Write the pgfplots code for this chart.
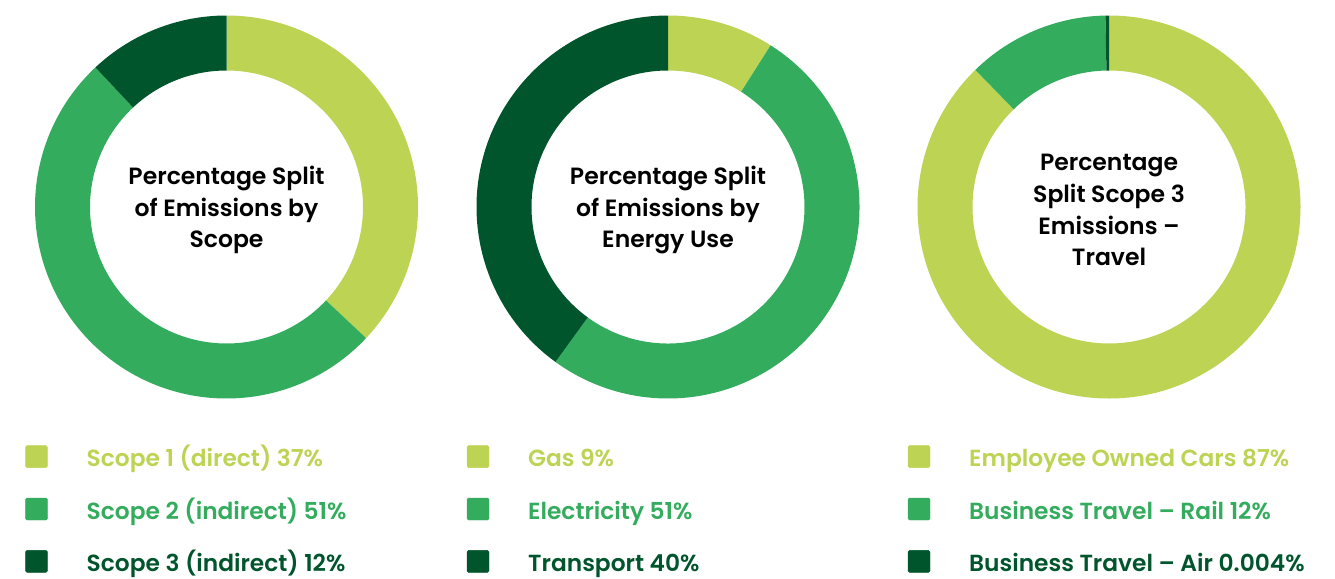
\documentclass[border=0pt]{standalone}
\usepackage{fontspec}
\setmainfont{Poppins}[BoldFont={* SemiBold}]
\usepackage{pgfplots}
\usepackage{pgfplotstable}
\pgfplotsset{compat=1.18}

\definecolor{cLight}{HTML}{BDD353}
\definecolor{cMid}{HTML}{34AC5E}
\definecolor{cDark}{HTML}{00552C}

\pgfplotstableread{
label value color
Scope1 37 cLight
Scope2 51 cMid
Scope3 12 cDark
}\scopedata

\pgfplotstableread{
label value color
Gas 9 cLight
Electricity 51 cMid
Transport 40 cDark
}\energydata

\pgfplotstableread{
label value color
Cars 87.7 cLight
Rail 12.0 cMid
Air 0.3 cDark
}\traveldata

\def\Ro{191.5}
\def\Ri{136.5}

\newcommand\donutsegments[1]{%
  \pgfplotstablegetrowsof{#1}%
  \pgfmathtruncatemacro\lastrow{\pgfplotsretval-1}%
  \gdef\cumsum{0}%
  \pgfplotsforeachungrouped \r in {0,...,\lastrow}{%
    \pgfplotstablegetelem{\r}{value}\of{#1}\let\segval\pgfplotsretval
    \pgfplotstablegetelem{\r}{color}\of{#1}\let\segcol\pgfplotsretval
    \pgfmathsetmacro\angA{90-3.6*\cumsum}%
    \pgfmathsetmacro\cumsumnew{\cumsum+\segval}%
    \global\let\cumsum\cumsumnew
    \pgfmathsetmacro\angB{90-3.6*\cumsum}%
    \pgfmathsetmacro\xA{\Ro*cos(\angA)}%
    \pgfmathsetmacro\yA{\Ro*sin(\angA)}%
    \pgfmathsetmacro\xB{\Ri*cos(\angB)}%
    \pgfmathsetmacro\yB{\Ri*sin(\angB)}%
    \edef\tmp{\noexpand\fill[\segcol] (axis cs:\xA,\yA) arc[start angle=\angA, end angle=\angB, radius=\Ro bp] -- (axis cs:\xB,\yB) arc[start angle=\angB, end angle=\angA, radius=\Ri bp] -- cycle;}%
    \tmp
  }%
}

\newcommand\legfont{\bfseries\fontsize{23.4}{27}\selectfont}
\newcommand\titfont{\bfseries\fontsize{23.6}{32}\selectfont}

\pgfplotsset{
  donut/.style={
    anchor=origin, x=1bp, y=1bp,
    xmin=-200, xmax=200, ymin=-200, ymax=200,
    hide axis, clip=false,
    legend cell align=left,
    legend style={at={(-0.003,-0.096)}, anchor=north west, draw=none, fill=none,
      inner sep=0pt, outer sep=0pt, row sep=30bp, column sep=0pt,
      font=\legfont,
      nodes={inner sep=0pt, outer sep=0pt, text height=21bp, text depth=1bp}},
  },
  sq/.style={legend image code/.code={%
    \fill[#1, rounded corners=1.5bp] (0bp,-11bp) rectangle (22bp,11bp);
    \path (61bp,0bp);}},
}

\begin{document}
\begin{tikzpicture}
\useasboundingbox (0,0) rectangle (1335bp,-579bp);

\begin{axis}[donut, at={(226.5bp,-207bp)}]
  \donutsegments{\scopedata}
  \node[align=center, font=\titfont] at (axis cs:0,-3) {Percentage Split\\of Emissions by\\Scope};
  \addlegendimage{sq=cLight}\addlegendentry{\textcolor{cLight}{Scope 1 (direct) 37\%}}
  \addlegendimage{sq=cMid}\addlegendentry{\textcolor{cMid}{Scope 2 (indirect) 51\%}}
  \addlegendimage{sq=cDark}\addlegendentry{\textcolor{cDark}{Scope 3 (indirect) 12\%}}
\end{axis}

\begin{axis}[donut, at={(668bp,-207bp)}]
  \donutsegments{\energydata}
  \node[align=center, font=\titfont] at (axis cs:0,-3) {Percentage Split\\of Emissions by\\Energy Use};
  \addlegendimage{sq=cLight}\addlegendentry{\textcolor{cLight}{Gas 9\%}}
  \addlegendimage{sq=cMid}\addlegendentry{\textcolor{cMid}{Electricity 51\%}}
  \addlegendimage{sq=cDark}\addlegendentry{\textcolor{cDark}{Transport 40\%}}
\end{axis}

\begin{axis}[donut, at={(1109bp,-207bp)}]
  \donutsegments{\traveldata}
  \node[align=center, font=\titfont] at (axis cs:0,-3) {Percentage\\Split Scope 3\\Emissions --\\Travel};
  \addlegendimage{sq=cLight}\addlegendentry{\textcolor{cLight}{Employee Owned Cars 87\%}}
  \addlegendimage{sq=cMid}\addlegendentry{\textcolor{cMid}{Business Travel -- Rail 12\%}}
  \addlegendimage{sq=cDark}\addlegendentry{\textcolor{cDark}{Business Travel -- Air 0.004\%}}
\end{axis}
\end{tikzpicture}
\end{document}
